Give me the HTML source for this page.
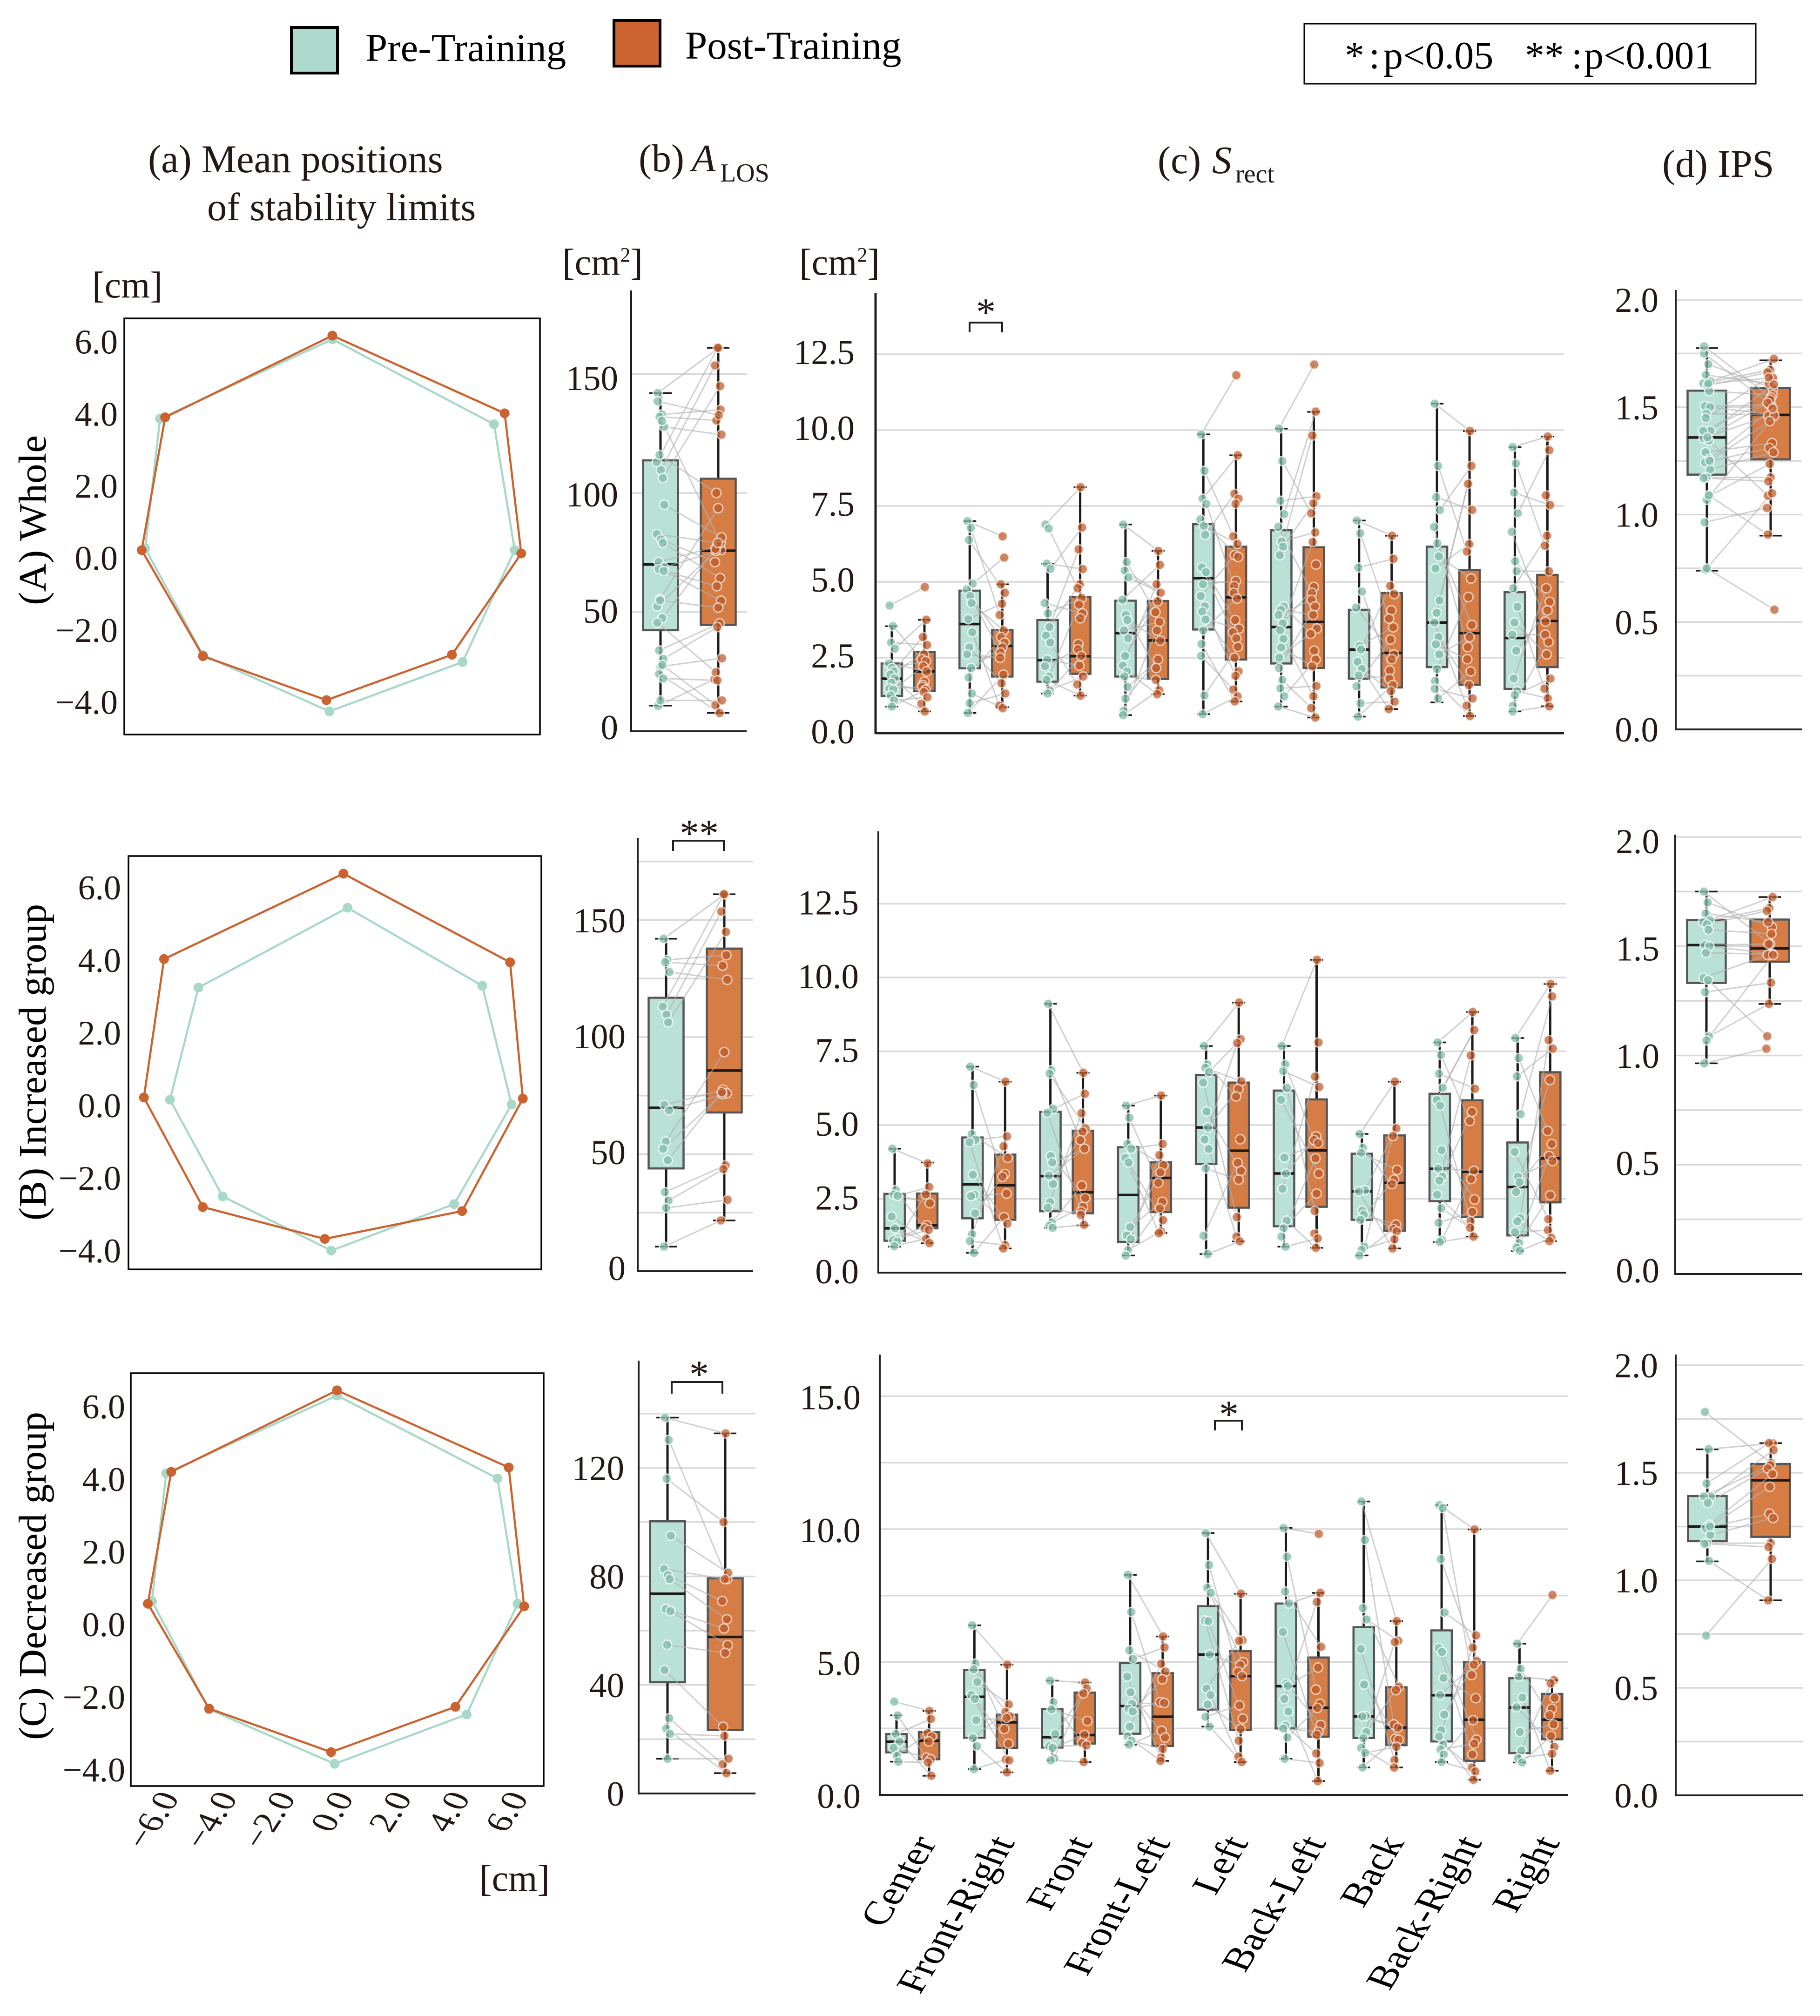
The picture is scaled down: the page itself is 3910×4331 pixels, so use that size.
<!DOCTYPE html>
<html lang="en">
<head>
<meta charset="utf-8">
<title>Stability limits pre and post training</title>
<style>
html,body{margin:0;padding:0;background:#fff;}
svg{display:block;position:absolute;left:0;top:0;}
text{font-family:"Liberation Serif",serif;fill:#231815;}
</style>
</head>
<body>
<svg id="fig" xmlns="http://www.w3.org/2000/svg" width="3910" height="4331" viewBox="0 0 3910 4331">
<rect x="0" y="0" width="3910" height="4331" fill="#fff"/>
<g>
<rect x="626" y="59" width="99" height="98" fill="#aedace" stroke="#000" stroke-width="6"/>
<text x="785" y="131" font-size="85" style="fill:#000">Pre-Training</text>
<rect x="1319" y="44" width="99" height="98" fill="#cd632e" stroke="#000" stroke-width="6"/>
<text x="1472" y="126" font-size="85" style="fill:#000">Post-Training</text>
</g>
<g>
<rect x="2802" y="51" width="970" height="129" fill="#fff" stroke="#000" stroke-width="3"/>
<text y="147" font-size="84" style="fill:#000"><tspan x="2889">*</tspan><tspan x="2941">:</tspan><tspan x="2972">p&lt;0.05</tspan><tspan x="3276">**</tspan><tspan x="3376">:</tspan><tspan x="3403">p&lt;0.001</tspan></text>
</g>
<text x="318" y="370" font-size="84.5">(a) Mean positions</text>
<text x="445" y="473" font-size="84.5">of stability limits</text>
<text y="368" font-size="84"><tspan x="1372">(b)</tspan><tspan x="1486" font-style="italic">A</tspan><tspan x="1547" y="390" font-size="56">LOS</tspan></text>
<text y="372" font-size="84"><tspan x="2487">(c)</tspan><tspan x="2604" font-style="italic">S</tspan><tspan x="2654" y="392" font-size="56">rect</tspan></text>
<text x="3571" y="380" font-size="84">(d) IPS</text>
<text x="198" y="639" font-size="80">[cm]</text>
<text x="1208" y="590" font-size="80">[cm<tspan font-size="44" dy="-28">2</tspan><tspan dy="28">]</tspan></text>
<text x="1717" y="590" font-size="80">[cm<tspan font-size="44" dy="-28">2</tspan><tspan dy="28">]</tspan></text>
<text x="1030" y="4062" font-size="80">[cm]</text>
<text transform="translate(98 1300) rotate(-90)" font-size="84" textLength="365" lengthAdjust="spacingAndGlyphs" style="fill:#000">(A) Whole</text>
<text transform="translate(98 2622) rotate(-90)" font-size="84" textLength="680" lengthAdjust="spacingAndGlyphs" style="fill:#000">(B) Increased group</text>
<text transform="translate(98 3738) rotate(-90)" font-size="84" textLength="705" lengthAdjust="spacingAndGlyphs" style="fill:#000">(C) Decreased group</text>
<g id="charts"></g>
</svg>
<script>
/* ---------- (a) mean positions of stability limits: [x cm, y cm] ---------- */
const polyPreA=[[0,6.08],[5.46,3.74],[6.16,0.27],[4.40,-2.81],[-0.1,-4.17],[-4.37,-2.62],[-6.32,0.32],[-5.82,3.89]];
const polyPostA=[[0,6.18],[5.82,4.04],[6.38,0.18],[4.04,-2.61],[-0.2,-3.86],[-4.37,-2.65],[-6.44,0.27],[-5.65,3.93]];
const polyPreB=[[0.42,5.45],[4.97,3.32],[5.96,0.08],[4.02,-2.64],[-0.13,-3.91],[-3.8,-2.43],[-5.58,0.21],[-4.62,3.27]];
const polyPostB=[[0.28,6.38],[5.91,3.96],[6.34,0.24],[4.29,-2.83],[-0.35,-3.59],[-4.47,-2.72],[-6.46,0.27],[-5.78,4.05]];
const polyPreC=[[0,6.32],[5.42,4.05],[6.1,0.62],[4.38,-2.41],[-0.08,-3.76],[-4.32,-2.27],[-6.25,0.69],[-5.77,4.19]];
const polyPostC=[[0,6.46],[5.8,4.35],[6.32,0.55],[4.0,-2.2],[-0.2,-3.44],[-4.32,-2.25],[-6.39,0.62],[-5.6,4.23]];
const polyYTicks=[6,4,2,0,-2,-4];
const polyYTickLabels=["6.0","4.0","2.0","0.0","\u22122.0","\u22124.0"];
const polyXTicks=[-6,-4,-2,0,2,4,6];
const polyXTickLabels=["\u22126.0","\u22124.0","\u22122.0","0.0","2.0","4.0","6.0"];

/* ---------- (b) A_LOS ---------- */
const losPreB=[142,133,132,127.8,113,109.6,106.3,71,68.7,55.4,52.3,47.4,33.8,30.2,27,10.5];
const losPostB=[161,135,130.5,124.5,161,153.6,144.9,77.5,76,93.6,75.7,76.5,45.2,43.6,30.5,21.7];
const losPreC=[138.5,130.3,116,95,82.7,80.5,79,68,67.2,54.8,45.5,27.7,23.9,22,12.8];
const losPostC=[132.7,79,100,81.3,79,70.9,64.2,60.8,54.7,51.8,24.6,10.8,7.5,21.2,12.8];
/* box stats: [q3, q1, median, whisker low, whisker high] */
const losStatPreA=[113.7,42.3,69.9,10.6,142];
const losStatPostA=[106,44.5,75.7,7.5,161];
const losStatPreB=[116.8,43.9,69.8,10.5,142];
const losStatPostB=[137.8,67.8,85.7,21.7,161];
const losStatPreC=[100.3,41,73.6,12.8,138.5];
const losStatPostC=[79.3,23.4,57.7,7.5,132.7];

/* ---------- (d) IPS ---------- */
const ipsPreB=[1.75,1.70,1.65,1.62,1.61,1.6,1.575,1.505,1.5,1.47,1.355,1.345,1.29,1.087,1.069,0.964];
const ipsPostB=[1.51,1.587,1.61,1.725,1.674,1.662,1.557,1.51,1.465,1.463,1.46,1.088,1.333,1.236,1.46,1.031];
const ipsPreC=[1.783,1.61,1.45,1.39,1.39,1.36,1.258,1.243,1.21,1.173,1.17,1.09,0.743,1.25];
const ipsPostC=[1.545,1.637,1.638,1.606,1.535,1.52,1.494,1.31,1.29,1.173,1.155,0.907,1.099,1.435];
const ipsPreExtraA=[0.75];
const ipsPostExtraA=[0.557];
const ipsStatPreA=[1.577,1.186,1.359,0.739,1.775];
const ipsStatPostA=[1.589,1.257,1.464,0.902,1.718];
const ipsStatPreB=[1.62,1.332,1.505,0.964,1.75];
const ipsStatPostB=[1.622,1.429,1.49,1.236,1.725];
const ipsStatPreC=[1.392,1.182,1.25,1.088,1.609];
const ipsStatPostC=[1.541,1.202,1.465,0.907,1.638];

/* ---------- (c) S_rect ---------- */
const categories=["Center","Front-Right","Front","Front-Left","Left","Back-Left","Back","Back-Right","Right"];
const rectPreA=[
[4.22,3.54,3.0,2.8,2.31,2.16,2.05,1.95,1.82,1.68,1.49,1.45,1.26,1.09,0.89],
[7.0,6.78,6.38,4.94,4.75,4.53,4.3,3.77,3.34,2.84,2.61,2.16,1.85,1.32,1.0,0.68],
[6.89,6.76,5.6,5.43,4.3,3.96,3.51,3.23,3.0,2.44,2.22,1.88,1.77,1.43,1.32],
[6.89,5.65,5.37,5.15,4.41,3.91,3.74,3.4,3.14,2.56,2.24,2.05,1.88,1.54,1.15,0.75,0.61],
[9.86,8.66,7.74,7.57,7.06,6.84,6.55,5.48,5.32,4.92,4.53,4.19,4.02,3.76,3.4,2.95,2.56,1.26,0.64],
[10.05,8.98,7.67,7.23,6.81,6.33,6.16,5.88,4.19,4.08,3.91,3.63,3.4,3.12,2.84,2.5,2.16,1.77,1.49,1.23,0.89],
[7.02,6.6,5.47,4.68,4.15,2.89,2.77,2.37,2.13,1.92,1.56,1.0,0.56],
[10.87,8.82,7.79,7.37,6.81,6.27,5.84,5.44,4.39,3.98,3.66,3.18,2.94,2.61,2.13,1.73,1.48,1.16],
[9.44,8.9,7.94,7.26,6.65,5.68,5.35,4.79,4.18,3.66,3.26,2.73,1.81,1.4,1.27,0.92,0.73]];
const rectPostA=[
[4.83,3.75,3.18,2.92,2.61,2.45,2.39,2.22,2.05,1.71,1.6,1.54,1.45,1.37,1.2,0.98,0.73],
[6.5,5.8,4.92,4.64,4.28,3.91,3.4,3.18,3.0,2.84,2.67,2.5,1.94,1.66,1.32,0.92,0.84],
[8.12,6.79,6.07,5.42,4.92,4.79,4.47,4.25,3.96,3.8,2.95,2.78,2.56,2.24,1.88,1.62,1.25],
[6.02,5.56,4.92,4.64,4.36,4.0,3.68,3.4,3.06,2.44,2.16,1.77,1.43,1.3],
[11.81,9.17,7.9,7.74,7.57,6.5,6.25,5.88,5.82,5.03,4.86,4.64,4.45,3.74,3.46,3.34,3.14,2.86,2.5,2.05,1.9,1.45,1.23,1.06],
[12.16,10.61,9.82,7.82,7.59,7.26,6.63,6.31,5.57,4.83,4.64,4.41,4.19,3.91,3.46,3.29,2.73,2.44,2.22,1.57,1.23,0.84,0.53],
[6.52,5.76,4.87,4.6,4.06,3.79,3.5,3.1,2.61,2.45,2.08,1.81,1.6,1.4,1.05,0.81],
[9.97,8.82,8.23,7.37,6.24,6.0,5.11,4.5,3.58,3.18,2.85,2.45,2.05,1.6,1.16,0.92,0.58],
[9.79,9.34,7.85,7.53,6.52,6.19,5.35,4.79,4.34,4.06,3.69,3.26,3.02,2.61,1.81,1.48,1.16,0.9]];
const rectStatPreA=[[2.31,1.24,1.81,0.89,3.54],[4.71,2.15,3.61,0.68,7.0],[3.74,1.71,2.42,1.32,5.6],[4.38,1.88,3.31,0.61,6.89],[6.9,3.43,5.12,0.64,9.86],[6.7,2.31,3.51,0.89,10.05],[4.08,1.81,2.77,0.56,7.02],[6.16,2.19,3.66,1.03,10.87],[4.66,1.47,3.15,0.73,9.44]];
const rectStatPostA=[[2.69,1.4,2.05,0.73,3.75],[3.41,1.88,2.89,0.87,4.92],[4.5,1.97,2.55,1.25,8.12],[4.37,1.8,3.07,1.3,6.02],[6.16,2.44,4.49,1.06,9.17],[6.14,2.16,3.68,0.53,10.6],[4.63,1.52,2.66,0.81,6.52],[5.39,1.61,3.31,0.58,9.97],[5.23,2.19,3.71,0.9,9.79]];

const rectPreB=[
[4.2,2.8,2.65,2.6,1.9,1.5,1.15,1.1,1.05,0.9],
[6.98,6.36,4.69,4.5,4.42,3.32,2.64,2.59,2.01,1.3,1.07,0.67],
[9.11,6.86,6.74,5.55,5.42,3.95,3.73,3.29,3.0,2.39,2.2,1.7,1.59,1.52],
[5.66,5.25,4.36,4.2,3.89,3.73,1.54,1.26,1.13,0.76,0.58],
[7.68,7.05,6.94,6.8,6.44,5.46,4.92,4.51,4.19,3.53,1.25,0.63],
[7.68,7.06,6.83,6.26,5.86,3.9,3.36,2.84,1.76,1.5,1.22,0.88],
[4.7,4.23,4.06,2.79,2.75,2.1,1.96,1.79,0.88,0.77,0.58],
[7.8,7.38,6.74,6.26,5.85,5.66,4.15,3.53,3.25,3.12,2.64,2.18,1.69,1.1,1.04],
[7.95,7.27,6.65,5.37,4.09,3.25,3.06,2.73,1.85,1.74,1.37,1.0,0.85,0.74]];
const rectPostB=[
[3.7,2.9,2.65,2.35,1.6,1.5,1.45,1.15,1.0],
[6.47,4.62,4.28,3.89,3.34,3.25,2.68,1.88,1.66,0.93,0.82],
[6.77,6.06,5.4,4.89,4.78,4.49,4.2,2.95,2.53,2.23,2.07,1.96,1.62],
[6.0,4.36,3.98,3.64,3.4,3.04,2.4,2.18,1.78,1.4,1.34],
[9.15,7.91,7.78,6.48,6.22,5.97,4.52,3.72,3.45,3.15,1.88,1.22,1.06],
[10.6,7.8,6.64,6.29,4.62,4.49,4.39,3.87,3.36,2.68,2.09,1.32,1.16,0.84],
[6.47,4.89,4.63,3.48,3.15,3.0,1.63,1.48,1.4,1.13,0.82],
[8.83,8.22,7.36,6.23,5.45,5.14,3.45,3.17,2.48,2.06,1.74,1.52,1.22],
[9.78,9.36,7.88,7.59,6.53,4.8,4.36,3.95,3.78,2.62,1.81,1.44,1.18,1.07]];
const rectStatPreB=[[2.67,1.08,1.5,0.88,4.2],[4.58,1.84,2.99,0.67,6.98],[5.45,2.08,3.27,1.52,9.11],[4.25,1.04,2.63,0.58,5.66],[6.7,3.68,4.92,0.63,7.68],[6.17,1.57,3.36,0.88,7.68],[4.03,1.79,2.75,0.58,4.7],[6.06,2.42,3.52,1.04,7.8],[4.41,1.26,2.9,0.74,7.95]];
const rectStatPostB=[[2.68,1.5,1.6,1.0,3.73],[4.0,1.79,2.96,0.82,6.47],[4.81,2.01,2.72,1.6,6.77],[3.74,2.05,3.21,1.34,6.0],[6.44,2.2,4.13,1.06,9.15],[5.87,2.23,4.14,0.84,10.6],[4.65,1.42,3.04,0.82,6.47],[5.84,1.88,3.42,1.22,8.83],[6.79,2.38,3.87,1.07,9.78]];

const rectPreC=[
[3.51,2.99,2.29,2.01,1.77,1.46,1.25],
[6.38,4.94,4.72,4.25,3.76,3.61,2.81,2.14,1.83,0.97],
[4.3,3.49,3.22,2.29,1.83,1.77,1.38,1.3],
[8.28,6.88,5.44,5.12,4.45,3.86,3.43,3.24,3.14,2.57,2.2,2.04,1.89],
[9.85,8.65,7.79,7.6,6.56,6.54,5.28,4.0,3.76,3.4,2.94,2.57],
[10.04,8.96,7.65,7.2,6.13,4.19,4.1,3.61,3.14,2.6,2.5,2.16,1.36],
[11.04,9.59,7.03,6.6,5.49,4.15,2.97,2.95,2.36,2.14,1.77,1.58,1.03],
[10.9,10.79,8.87,6.86,5.52,5.38,4.4,3.76,3.02,2.43,2.2,1.89,1.71,1.52,1.24],
[5.69,4.74,4.45,3.66,3.3,2.37,1.67,1.38,1.22]];
const rectPostC=[
[3.16,2.86,2.32,2.2,2.01,1.4,1.34,1.22,0.72],
[4.9,3.4,3.12,2.96,2.9,2.48,1.93,1.33,1.3,0.85],
[4.23,4.0,3.82,2.78,2.26,1.95,1.86,1.24],
[5.96,5.55,4.93,4.64,4.35,3.49,3.46,2.41,2.16,1.72,1.4,1.28],
[7.57,5.82,5.8,4.99,4.88,4.63,4.47,3.37,2.87,2.48,2.04,1.44,1.24],
[9.82,7.6,7.26,5.57,4.79,3.96,3.43,3.27,2.63,2.38,2.26,1.56,1.2,0.52],
[6.54,5.8,5.75,4.07,3.94,2.65,2.53,2.11,2.08,1.81,1.31,1.03],
[9.99,6.0,5.54,5.04,4.9,4.51,3.64,2.81,2.08,1.93,1.52,1.03,0.88,0.57],
[7.52,4.32,4.2,3.65,3.24,3.0,2.65,2.22,1.81,1.55,0.91]];
const rectStatPreC=[[2.29,1.6,2.0,1.25,2.99],[4.7,2.15,3.69,0.97,6.38],[3.23,1.78,2.17,1.3,4.3],[4.96,2.3,3.34,1.89,8.28],[7.1,3.21,5.28,2.57,9.85],[7.2,2.5,4.09,1.36,10.04],[6.31,2.14,2.95,1.03,11.04],[6.19,2.01,3.75,1.24,10.9],[4.39,1.57,3.29,1.22,5.69]];
const rectStatPostC=[[2.36,1.34,2.04,0.72,3.16],[3.02,1.77,2.73,0.85,4.9],[3.85,1.93,2.25,1.24,4.23],[4.58,1.84,2.94,1.28,5.96],[5.41,2.44,4.47,1.24,7.57],[5.17,2.19,3.28,0.52,7.6],[4.05,1.87,2.53,1.03,6.54],[5.0,1.28,2.83,0.57,9.99],[3.8,2.09,2.83,0.91,4.32]];

/* tick value lists */
const rectGridAB=[2.5,5,7.5,10,12.5];
const rectTicksAB=[0,2.5,5,7.5,10,12.5];
const rectTickLabelsAB=["0.0","2.5","5.0","7.5","10.0","12.5"];
const rectGridC=[2.5,5,7.5,10,12.5,15];
const rectTicksC=[0,5,10,15];
const rectTickLabelsC=["0.0","5.0","10.0","15.0"];
const losGridA=[50,100,150];
const losGridB=[25,50,75,100,125,150,175];
const losGridC=[20,40,60,80,100,120,140];
const losTicksAB=[0,50,100,150];
const losTickLabelsAB=["0","50","100","150"];
const losTicksC=[0,40,80,120];
const losTickLabelsC=["0","40","80","120"];
const ipsGrid=[0.25,0.5,0.75,1,1.25,1.5,1.75,2];
const ipsTicks=[0,0.5,1,1.5,2];
const ipsTickLabels=["0.0","0.5","1.0","1.5","2.0"];

/* ---------- drawing helpers ---------- */
const NS="http://www.w3.org/2000/svg";
const root=document.getElementById("charts");
const TEAL_LINE="#a8d8c8",ORANGE_LINE="#cc622f";
const offsets=[-6,3,-2,8,-8,1,5,-4,7,-1,-7,4,-3,6,0,-5];
function node(tag,parent,attrs){
  const n=document.createElementNS(NS,tag);
  for(const k in attrs){n.setAttribute(k,attrs[k]);}
  parent.appendChild(n);
  return n;
}
function seg(parent,x1,y1,x2,y2,stroke,w,op){
  return node("line",parent,{x1:x1,y1:y1,x2:x2,y2:y2,stroke:stroke,"stroke-width":w,"stroke-opacity":op===undefined?1:op});
}
function label(parent,str,x,y,size,anchor){
  const t=node("text",parent,{x:x,y:y,"font-size":size,"text-anchor":anchor});
  t.textContent=str;
  return t;
}
function group(parent){return node("g",parent,{});}

function drawPoly(cfg){
  const g=group(root);
  
  
  const sx=v=>cfg.x0+v*63.6;
  const sy=v=>cfg.y0-v*cfg.ky;
  const frame=node("rect",g,{x:cfg.l,y:cfg.t,width:cfg.r-cfg.l,height:cfg.b-cfg.t,fill:"#fff",stroke:"#000","stroke-width":3.5});
  
  
  polyYTicks.forEach((v,i)=>{
    const t=label(g,polyYTickLabels[i],cfg.labelRight,cfg.labY0-v*cfg.labK+21,74,"end");
    
    
  });
  const series=[[cfg.pre,TEAL_LINE,'polygon-pre','vertex-pre'],[cfg.post,ORANGE_LINE,'polygon-post','vertex-post']];
  series.forEach(s=>{
    const pts=s[0].map(p=>sx(p[0]).toFixed(1)+","+sy(p[1]).toFixed(1)).join(" ");
    const pg=node("polygon",g,{points:pts,fill:"none",stroke:s[1],"stroke-width":4.5});
    
    
    s[0].forEach(p=>{
      const c=node("circle",g,{cx:sx(p[0]),cy:sy(p[1]),r:10.5,fill:s[1]});
      
      
    });
  });
  if(cfg.xTicks){
    polyXTicks.forEach((v,i)=>{
      const px=cfg.x0+v*62.5+38,py=3862;
      const t=node("text",g,{"font-size":74,"text-anchor":"end",transform:"translate("+px+" "+py+") rotate(-57) skewX(12)"});
      t.textContent=polyXTickLabels[i];
      
      
    });
  }
}

function tangled(n,m,i){
  const idx=[];
  for(let k=0;k<m;k++){idx.push(k);}
  idx.sort((a,b)=>(a+((a*7)%5-2)*2.6)-(b+((b*7)%5-2)*2.6));
  const at=n>1?Math.round(i*(m-1)/(n-1)):0;
  return idx[at];
}

function drawBox(g,cx,w,stat,sy,fill){
  const wh=seg(g,cx,sy(stat[3]),cx,sy(stat[4]),"#1e1a18",5);
  
  
  [stat[3],stat[4]].forEach(v=>{
    const cap=seg(g,cx-cfgCap(w),sy(v),cx+cfgCap(w),sy(v),"#1e1a18",3.5);
    
    
  });
  const r=node("rect",g,{x:cx-w/2,y:sy(stat[0]),width:w,height:sy(stat[1])-sy(stat[0]),fill:fill,stroke:"#555","stroke-width":4.5});
  
  
  const m=seg(g,cx-w/2,sy(stat[2]),cx+w/2,sy(stat[2]),"#1e1a18",5.5);
  
  
}
function cfgCap(w){return w>60?24:14;}

function drawBoxPanel(cfg){
  const g=group(root);
  
  
  const sy=v=>cfg.y0-v*cfg.k;
  const laby=v=>cfg.labY0===undefined?sy(v)+cfg.labDy:cfg.labY0-v*cfg.labK;
  cfg.grid.forEach(v=>{
    const l=seg(g,cfg.ax,sy(v),cfg.xEnd,sy(v),"#d9d9d9",3.5);
    
    
  });
  const ay=seg(g,cfg.ax,cfg.top,cfg.ax,cfg.base+2,"#231f1e",cfg.axW);
  
  
  const axb=seg(g,cfg.ax,cfg.base,cfg.xEnd,cfg.base,"#231f1e",cfg.axW);
  
  
  cfg.ticks.forEach((v,i)=>{
    const t=label(g,cfg.tickLabels[i],cfg.labelRight,laby(v)+26,75,"end");
    
    
  });
  cfg.centers.forEach((c,n)=>{
    const xp=c[0],xq=c[1];
    drawBox(g,xp,cfg.boxW,cfg.statPre[n],sy,"#bae1d5");
    drawBox(g,xq,cfg.boxW,cfg.statPost[n],sy,"#d67d46");
    const pre=cfg.pre[n],post=cfg.post[n];
    const jitter=cfg.jitter;
    const px=i=>xp+offsets[i%16]*jitter;
    const qx=i=>xq+offsets[(i+5)%16]*jitter;
    const cnt=cfg.paired?Math.min(pre.length,post.length):pre.length;
    for(let i=0;i<cnt;i++){
      const j=cfg.paired?i:tangled(pre.length,post.length,i);
      const l=seg(g,px(i),sy(pre[i]),qx(j),sy(post[j]),"#b0b0b0",3,0.6);
      
      
    }
    pre.forEach((v,i)=>{
      const d=node("circle",g,{cx:px(i),cy:sy(v),r:10,fill:"#7fbba8","fill-opacity":0.75,stroke:"#fff","stroke-opacity":0.7,"stroke-width":3});
      
      
    });
    post.forEach((v,i)=>{
      const d=node("circle",g,{cx:qx(i),cy:sy(v),r:10,fill:"#bd5825","fill-opacity":0.72,stroke:"#fff","stroke-opacity":0.6,"stroke-width":3});
      
      
    });
  });
}

function bracket(l,r,top,bottom,starX,starY,str){
  const g=group(root);
  
  
  node("polyline",g,{points:l+","+bottom+" "+l+","+top+" "+r+","+top+" "+r+","+bottom,fill:"none",stroke:"#231f1e","stroke-width":4});
  const t=label(g,str,starX,starY,84,"middle");
  
  
}

function catCenters(start,pre,post){
  return categories.map((c,i)=>[start+167.3*i-pre,start+167.3*i+post]);
}

/* ---------- panels ---------- */
drawPoly({name:'positions-whole',l:267,r:1160,t:684,b:1578,x0:714,y0:1203,ky:78,labelRight:253,labY0:1203,labK:77.4,pre:polyPreA,post:polyPostA});
drawPoly({name:'positions-increased',l:276,r:1163,t:1839,b:2727,x0:720,y0:2379,ky:78.7,labelRight:260,labY0:2379,labK:78,pre:polyPreB,post:polyPostB});
drawPoly({name:'positions-decreased',l:281,r:1168,t:2950,b:3837,x0:724,y0:3494,ky:78.5,labelRight:269,labY0:3494,labK:78,pre:polyPreC,post:polyPostC,xTicks:true});

drawBoxPanel({name:'alos-whole',axW:4,ax:1356,xEnd:1604,top:624,base:1571,y0:1570,k:5.11,grid:losGridA,ticks:losTicksAB,tickLabels:losTickLabelsAB,labelRight:1328,labY0:1562,labK:5.0,centers:[[1419,1543]],boxW:75,jitter:1,paired:true,pre:[losPreB.concat(losPreC)],post:[losPostB.concat(losPostC)],statPre:[losStatPreA],statPost:[losStatPostA]});
drawBoxPanel({name:'alos-increased',axW:4,ax:1370,xEnd:1618,top:1800,base:2731,y0:2731,k:5.03,grid:losGridB,ticks:losTicksAB,tickLabels:losTickLabelsAB,labelRight:1344,labY0:2724,labK:4.98,centers:[[1431,1556]],boxW:75,jitter:0.9,paired:true,pre:[losPreB],post:[losPostB],statPre:[losStatPreB],statPost:[losStatPostB]});
drawBoxPanel({name:'alos-decreased',axW:4,ax:1372,xEnd:1623,top:2923,base:3853,y0:3853,k:5.83,grid:losGridC,ticks:losTicksC,tickLabels:losTickLabelsC,labelRight:1341,labDy:0,centers:[[1434,1558]],boxW:75,jitter:0.9,paired:true,pre:[losPreC],post:[losPostC],statPre:[losStatPreC],statPost:[losStatPostC]});

drawBoxPanel({name:'srect-whole',axW:5,ax:1881,xEnd:3360,top:629,base:1575,y0:1576,k:65.2,grid:rectGridAB,ticks:rectTicksAB,tickLabels:rectTickLabelsAB,labelRight:1836,labDy:-5,centers:catCenters(1951,35,35),boxW:44,jitter:0.8,paired:false,pre:rectPreA,post:rectPostA,statPre:rectStatPreA,statPost:rectStatPostA});
drawBoxPanel({name:'srect-increased',axW:4,ax:1887,xEnd:3365,top:1786,base:2734,y0:2734,k:63.4,grid:rectGridAB,ticks:rectTicksAB,tickLabels:rectTickLabelsAB,labelRight:1845,labDy:-3,centers:catCenters(1957,35,35),boxW:44,jitter:0.8,paired:false,pre:rectPreB,post:rectPostB,statPre:rectStatPreB,statPost:rectStatPostB});
drawBoxPanel({name:'srect-decreased',axW:4,ax:1890,xEnd:3369,top:2910,base:3856,y0:3856,k:57.1,grid:rectGridC,ticks:rectTicksC,tickLabels:rectTickLabelsC,labelRight:1849,labDy:2,centers:catCenters(1961,35,35),boxW:44,jitter:0.8,paired:false,pre:rectPreC,post:rectPostC,statPre:rectStatPreC,statPost:rectStatPostC});

drawBoxPanel({name:'ips-whole',axW:4,ax:3600,xEnd:3872,top:623,base:1567,y0:1567,k:461.5,grid:ipsGrid,ticks:ipsTicks,tickLabels:ipsTickLabels,labelRight:3563,labDy:0,centers:[[3667,3804]],boxW:83,jitter:1,paired:true,pre:[ipsPreB.concat(ipsPreC,ipsPreExtraA)],post:[ipsPostB.concat(ipsPostC,ipsPostExtraA)],statPre:[ipsStatPreA],statPost:[ipsStatPostA]});
drawBoxPanel({name:'ips-increased',axW:4,ax:3599,xEnd:3871,top:1793,base:2737,y0:2737,k:469.5,grid:ipsGrid,ticks:ipsTicks,tickLabels:ipsTickLabels,labelRight:3565,labY0:2729,labK:461,centers:[[3666,3802]],boxW:83,jitter:0.9,paired:true,pre:[ipsPreB],post:[ipsPostB],statPre:[ipsStatPreB],statPost:[ipsStatPostB]});
drawBoxPanel({name:'ips-decreased',axW:4,ax:3600,xEnd:3873,top:2910,base:3857,y0:3857,k:462,grid:ipsGrid,ticks:ipsTicks,tickLabels:ipsTickLabels,labelRight:3562,labDy:0,centers:[[3668,3804]],boxW:83,jitter:0.9,paired:true,pre:[ipsPreC],post:[ipsPostC],statPre:[ipsStatPreC],statPost:[ipsStatPostC]});

bracket(2083,2153,693,714,2118,698,"*");
bracket(1446,1555,1806,1828,1502,1818,"**");
bracket(1443,1552,2969,2994,1502,2980,"*");
bracket(2610,2668,3052,3073,2640,3066,"*");

categories.forEach((c,i)=>{
  const px=1961+167.3*i+53,py=3958;
  const t=node("text",root,{"font-size":82,"text-anchor":"end",transform:"translate("+px+" "+py+") rotate(-58) skewX(12)"});
  t.textContent=c;
  t.style.fill="#000";
  
  
});
</script>
</body>
</html>
